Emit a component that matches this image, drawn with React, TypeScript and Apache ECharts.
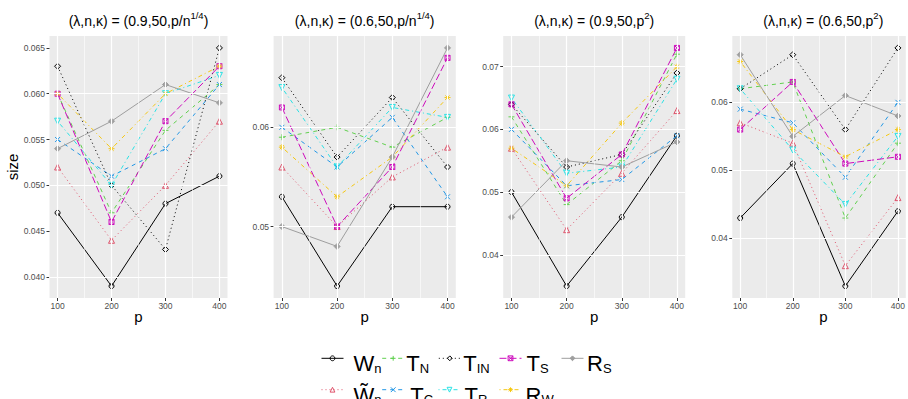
import React, { useEffect, useRef } from 'react';
import * as echarts from 'echarts';

// x categories (p)
const pValues = [100, 200, 300, 400];
const xTicks = [100, 200, 300, 400];
const xMinor = [150, 250, 350];

// series values, one inner array per panel (panel 1..4)
const wn = [[0.047, 0.039, 0.048, 0.051], [0.053, 0.044, 0.052, 0.052], [0.050, 0.035, 0.046, 0.059], [0.043, 0.051, 0.033, 0.044]];
const wnTilde = [[0.052, 0.044, 0.050, 0.057], [0.056, 0.050, 0.055, 0.058], [0.057, 0.044, 0.053, 0.063], [0.057, 0.054, 0.036, 0.046]];
const tN = [[0.060, 0.047, 0.056, 0.061], [0.059, 0.060, 0.058, 0.061], [0.062, 0.048, 0.055, 0.072], [0.062, 0.063, 0.043, 0.054]];
const tC = [[0.055, 0.051, 0.054, 0.061], [0.060, 0.056, 0.061, 0.053], [0.060, 0.051, 0.052, 0.059], [0.059, 0.057, 0.049, 0.060]];
const tIN = [[0.063, 0.050, 0.043, 0.065], [0.065, 0.057, 0.063, 0.056], [0.064, 0.054, 0.056, 0.069], [0.062, 0.067, 0.056, 0.068]];
const tR = [[0.057, 0.050, 0.060, 0.062], [0.064, 0.056, 0.062, 0.061], [0.065, 0.053, 0.054, 0.068], [0.062, 0.053, 0.045, 0.055]];
const tS = [[0.060, 0.046, 0.057, 0.063], [0.062, 0.050, 0.056, 0.067], [0.064, 0.049, 0.056, 0.073], [0.056, 0.063, 0.051, 0.052]];
const rW = [[0.060, 0.054, 0.060, 0.063], [0.058, 0.053, 0.057, 0.063], [0.057, 0.051, 0.061, 0.070], [0.066, 0.056, 0.052, 0.056]];
const rS = [[0.054, 0.057, 0.061, 0.059], [0.050, 0.048, 0.057, 0.068], [0.046, 0.055, 0.054, 0.058], [0.067, 0.055, 0.061, 0.058]];

// y tick labels per panel
const yTicks1 = [0.040, 0.045, 0.050, 0.055, 0.060, 0.065];
const yTicks2 = [0.05, 0.06];
const yTicks3 = [0.04, 0.05, 0.06, 0.07];
const yTicks4 = [0.04, 0.05, 0.06];
const yMinor1 = [0.0425, 0.0475, 0.0525, 0.0575, 0.0625];
const yMinor2 = [0.045, 0.055, 0.065];
const yMinor3 = [0.035, 0.045, 0.055, 0.065];
const yMinor4 = [0.035, 0.045, 0.055, 0.065];
const yDecimals = [3, 2, 2, 2];

const titleLambda = ['0.9', '0.6', '0.9', '0.6'];
const titleKappa = ['p/n', 'p/n', 'p', 'p'];
const titleSup = ['1/4', '1/4', '2', '2'];

const seriesNames = ['Wn', 'W̃n', 'TN', 'TC', 'TIN', 'TR', 'TS', 'RW', 'RS'];
const seriesData = [wn, wnTilde, tN, tC, tIN, tR, tS, rW, rS];
const legendMain = ['W', 'W̃', 'T', 'T', 'T', 'T', 'T', 'R', 'R'];
const legendSub = ['n', 'n', 'N', 'C', 'IN', 'R', 'S', 'W', 'S'];

const FONT = 'Liberation Sans, Arial, sans-serif';
const CLEAR = 'rgba(0,0,0,0)';

const styles = [
  { color: '#000000', dash: 'solid' as any, symbol: 'circle', size: 5, fill: CLEAR },
  { color: '#DF536B', dash: [1, 3], symbol: 'triangle', size: 6, fill: CLEAR },
  { color: '#61D04F', dash: [4, 4], symbol: 'path://M0,-1 L0,1 M-1,0 L1,0', size: 6, fill: CLEAR },
  { color: '#2297E6', dash: [4, 4], symbol: 'path://M-1,-1 L1,1 M-1,1 L1,-1', size: 5, fill: CLEAR },
  { color: '#000000', dash: [1, 3], symbol: 'diamond', size: 6, fill: CLEAR },
  { color: '#28E2E5', dash: [1, 3, 4, 3], symbol: 'path://M-1,-1 L1,-1 L0,1 Z', size: 6, fill: CLEAR },
  { color: '#CD0BBC', dash: [7, 3], symbol: 'path://M-1,-1 L1,-1 L1,1 L-1,1 Z M-1,-1 L1,1 M-1,1 L1,-1', size: 5, fill: CLEAR },
  { color: '#F5C710', dash: [1, 3, 4, 3], symbol: 'path://M0,-1 L0,1 M-1,0 L1,0 M-0.7,-0.7 L0.7,0.7 M-0.7,0.7 L0.7,-0.7', size: 6, fill: CLEAR },
  { color: '#9E9E9E', dash: 'solid' as any, symbol: 'diamond', size: 6, fill: '#9E9E9E' },
];

const panels = [
  { left: 49.5, width: 178 },
  { left: 273.6, width: 182.2 },
  { left: 503.2, width: 182 },
  { left: 732.3, width: 182 },
];
const TOP = 36;
const HEIGHT = 262;

const legendLayout = [
  { left: 321, row: 0, pad: 5 },
  { left: 321, row: 1, pad: 5 },
  { left: 381.7, row: 0, pad: -3 },
  { left: 381.7, row: 1, pad: 1 },
  { left: 438.3, row: 0, pad: -2.5 },
  { left: 438, row: 1, pad: -1 },
  { left: 499, row: 0, pad: 0 },
  { left: 499, row: 1, pad: -1 },
  { left: 561, row: 0, pad: -1.5 },
];
const legendTops = [352.8, 384.2];

function buildOption() {
  const yTicks = [yTicks1, yTicks2, yTicks3, yTicks4];
  const yMinor = [yMinor1, yMinor2, yMinor3, yMinor4];

  const grid = panels.map((p) => ({
    left: p.left, top: TOP, width: p.width, height: HEIGHT,
    show: true, backgroundColor: '#EBEBEB', borderWidth: 0, containLabel: false,
  }));

  const xAxis = panels.map((_, i) => ({
    type: 'value', gridIndex: i, min: 85, max: 415,
    axisLine: { show: false }, splitLine: { show: false },
    axisTick: { show: true, length: 3, lineStyle: { color: '#333333', width: 1 }, customValues: xTicks },
    axisLabel: { show: true, customValues: xTicks, color: '#4D4D4D', fontSize: 8.5, fontFamily: FONT, margin: 3, formatter: (v: number) => String(v) },
  }));

  const yAxis = panels.map((_, i) => {
    const all = seriesData.flatMap((s) => s[i]);
    const lo = Math.min(...all);
    const hi = Math.max(...all);
    const pad = (hi - lo) * 0.05;
    return {
      type: 'value', gridIndex: i, min: lo - pad, max: hi + pad,
      axisLine: { show: false }, splitLine: { show: false },
      axisTick: { show: true, length: 3, lineStyle: { color: '#333333', width: 1 }, customValues: yTicks[i] },
      axisLabel: { show: true, customValues: yTicks[i], color: '#4D4D4D', fontSize: 8.5, fontFamily: FONT, margin: 4.5, formatter: (v: number) => v.toFixed(yDecimals[i]) },
    };
  });

  const series: any[] = [];
  panels.forEach((_, i) => {
    series.push({
      type: 'line', xAxisIndex: i, yAxisIndex: i, data: [], silent: true, z: 1,
      markLine: {
        silent: true, symbol: ['none', 'none'], label: { show: false }, animation: false,
        data: [
          ...yMinor[i].map((v) => ({ yAxis: v, lineStyle: { color: '#FFFFFF', width: 0.6, type: 'solid' } })),
          ...xMinor.map((v) => ({ xAxis: v, lineStyle: { color: '#FFFFFF', width: 0.6, type: 'solid' } })),
          ...yTicks[i].map((v) => ({ yAxis: v, lineStyle: { color: '#FFFFFF', width: 1.2, type: 'solid' } })),
          ...xTicks.map((v) => ({ xAxis: v, lineStyle: { color: '#FFFFFF', width: 1.2, type: 'solid' } })),
        ],
      },
    });
    seriesNames.forEach((name, k) => {
      const st = styles[k];
      series.push({
        type: 'line', name, xAxisIndex: i, yAxisIndex: i, z: 2,
        data: pValues.map((p, j) => [p, seriesData[k][i][j]]),
        symbol: st.symbol, symbolSize: st.size, showSymbol: true,
        lineStyle: { color: st.color, width: 1, type: st.dash },
        itemStyle: { color: st.fill, borderColor: st.color, borderWidth: 1 },
        emphasis: { disabled: true },
      });
    });
  });

  const legend = seriesNames.map((name, k) => {
    const L = legendLayout[k];
    const st = styles[k];
    return {
      data: [name], left: L.left, top: legendTops[L.row], padding: 0,
      itemWidth: 22, itemHeight: 6, selectedMode: false, orient: 'horizontal',
      lineStyle: { width: 1, color: st.color, type: st.dash },
      itemStyle: { color: st.fill, borderColor: st.color, borderWidth: 1 },
      formatter: () => `{b|${legendMain[k]}}{s|${legendSub[k]}}`,
      textStyle: {
        color: '#000', fontFamily: FONT, padding: [11, 0, 0, L.pad],
        rich: {
          b: { fontSize: 22, fontFamily: FONT, color: '#000', verticalAlign: 'bottom' },
          s: { fontSize: 13, fontFamily: FONT, color: '#000', verticalAlign: 'bottom' },
        },
      },
    };
  });

  const graphic: any[] = [];
  panels.forEach((p, i) => {
    const cx = p.left + p.width / 2;
    graphic.push({
      type: 'text', x: cx, y: 19, silent: true,
      style: {
        text: `{a|(λ,n,κ) = (${titleLambda[i]},50,${titleKappa[i]}}{s|${titleSup[i]}}{a|)}`,
        align: 'center', verticalAlign: 'middle', fontFamily: FONT, fill: '#000',
        rich: {
          a: { fontSize: 14, fontFamily: FONT, fill: '#000', verticalAlign: 'bottom', lineHeight: 18 },
          s: { fontSize: 9.5, fontFamily: FONT, fill: '#000', verticalAlign: 'top', lineHeight: 10 },
        },
      },
    });
    graphic.push({
      type: 'text', x: cx, y: 316, silent: true,
      style: { text: 'p', align: 'center', verticalAlign: 'middle', fontSize: 15, fontFamily: FONT, fill: '#000' },
    });
  });
  graphic.push({
    type: 'text', x: 12, y: TOP + HEIGHT / 2, rotation: Math.PI / 2, silent: true,
    style: { text: 'size', align: 'center', verticalAlign: 'middle', fontSize: 15, fontFamily: FONT, fill: '#000' },
  });

  return {
    animation: false,
    backgroundColor: '#FFFFFF',
    textStyle: { fontFamily: FONT },
    grid, xAxis, yAxis, series, legend, graphic,
  };
}

export default function App() {
  const ref = useRef<HTMLDivElement>(null);
  useEffect(() => {
    if (!ref.current) return;
    const chart = echarts.init(ref.current, null, { renderer: 'svg' });
    chart.setOption(buildOption() as any);
    return () => chart.dispose();
  }, []);
  return (
    <div
      ref={ref}
      style={{ position: 'fixed', left: 0, top: 0, width: 908, height: 399, background: '#fff' }}
    />
  );
}
